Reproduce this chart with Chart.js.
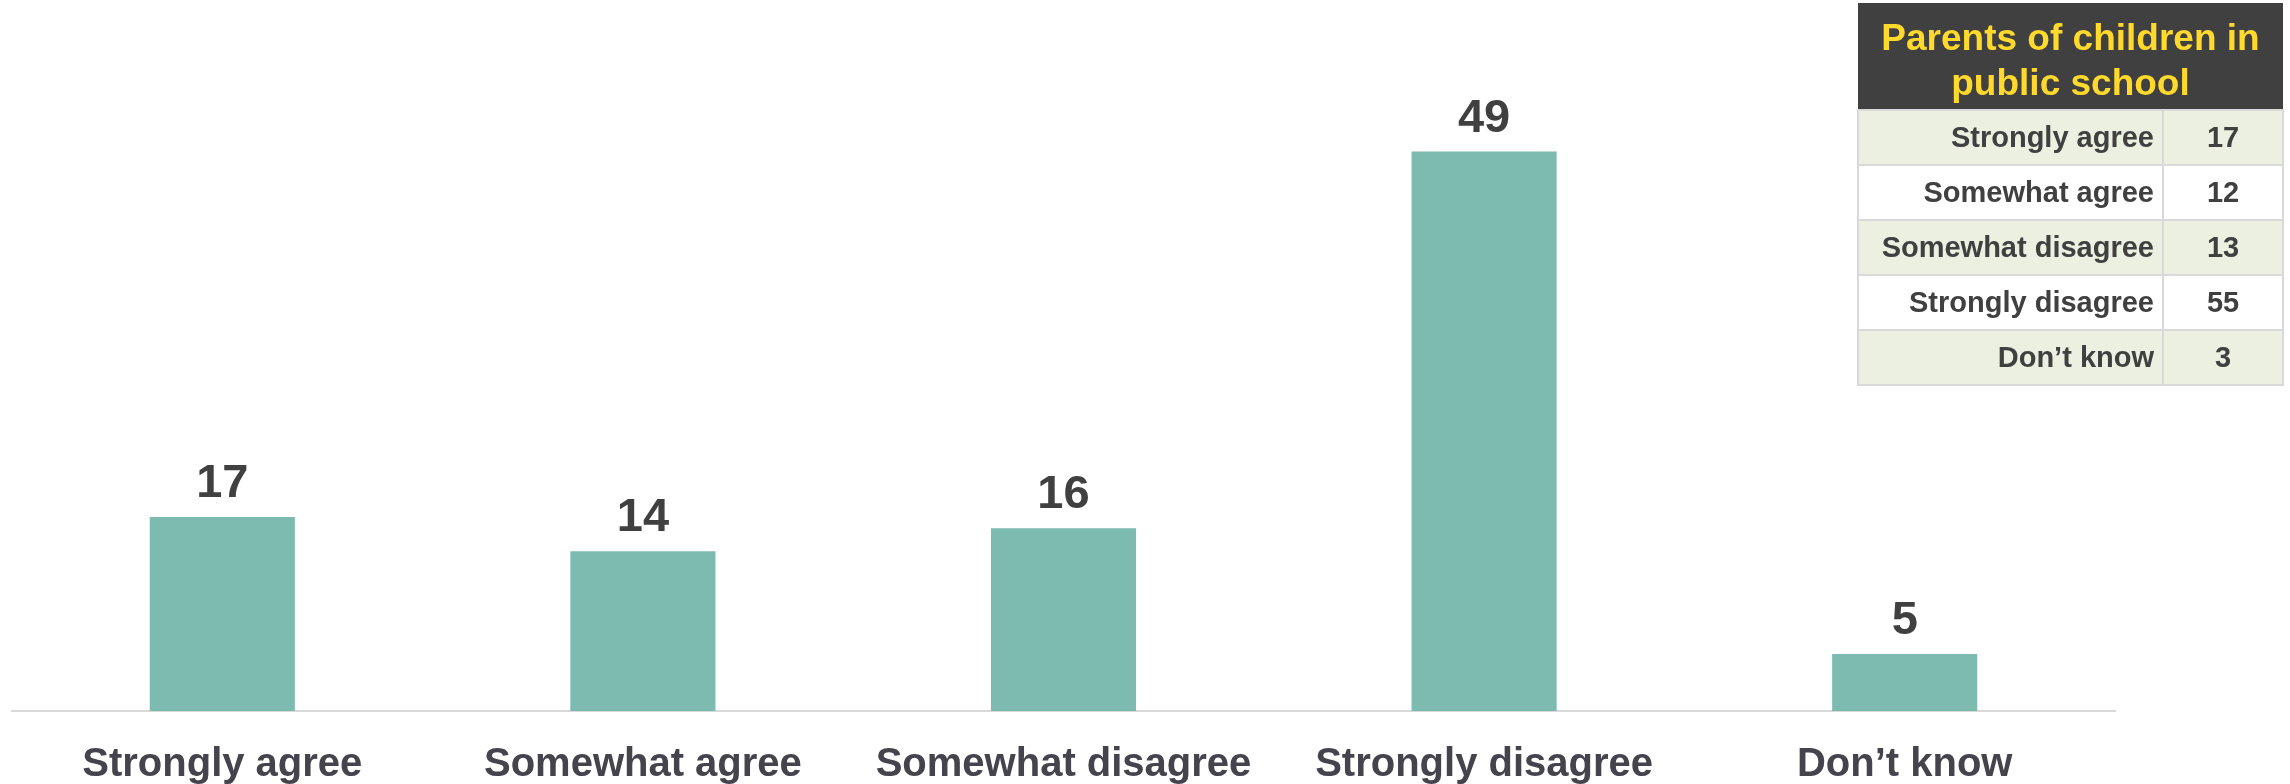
<!DOCTYPE html>
<html>
<head>
<meta charset="utf-8">
<script src="https://cdn.jsdelivr.net/npm/chart.js@4"></script>
<style>
  html, body { margin: 0; padding: 0; background: #ffffff; }
  #wrap { position: relative; width: 2290px; height: 784px; overflow: hidden; }
  #c { position: absolute; left: 0; top: 0; }
  #tbl {
    position: absolute; left: 1857px; top: 3px; width: 425px;
    border-collapse: collapse; font-family: "Liberation Sans", Arial, sans-serif;
    font-weight: bold; color: #404040; table-layout: fixed;
  }
  #tbl th {
    background: #404040; color: #ffd92c; font-size: 37px; line-height: 45px;
    height: 107px; padding: 8px 0 0 0; box-sizing: border-box; text-align: center; font-weight: bold;
  }
  #tbl td {
    height: 53px; padding: 0; font-size: 29px; border: 2px solid #d9d9d9;
  }
  #tbl td.lab { text-align: right; padding-right: 8px; }
  #tbl td.val { text-align: center; }
  #tbl tr.odd td { background: #ebf0e0; }
  #tbl tr.even td { background: #ffffff; }
</style>
</head>
<body>
<div id="wrap">
  <canvas id="c" width="2290" height="784"></canvas>
  <table id="tbl"></table>
</div>
<script>
// ---- data ----
const categories = ['Strongly agree', 'Somewhat agree', 'Somewhat disagree', 'Strongly disagree', 'Don\u2019t know'];
const values = [17, 14, 16, 49, 5];
const tableTitle = ['Parents of children in', 'public school'];
const tableLabels = ['Strongly agree', 'Somewhat agree', 'Somewhat disagree', 'Strongly disagree', 'Don\u2019t know'];
const tableValues = [17, 12, 13, 55, 3];

// ---- table ----
(function buildTable() {
  const t = document.getElementById('tbl');
  const colg = document.createElement('colgroup');
  const c1 = document.createElement('col'); c1.style.width = '305px';
  const c2 = document.createElement('col'); c2.style.width = '120px';
  colg.appendChild(c1); colg.appendChild(c2); t.appendChild(colg);
  const hr = document.createElement('tr');
  const th = document.createElement('th'); th.colSpan = 2;
  th.innerHTML = tableTitle.join('<br>');
  hr.appendChild(th); t.appendChild(hr);
  tableLabels.forEach((lab, i) => {
    const tr = document.createElement('tr');
    tr.className = i % 2 === 0 ? 'odd' : 'even';
    const a = document.createElement('td'); a.className = 'lab'; a.textContent = lab;
    const b = document.createElement('td'); b.className = 'val'; b.textContent = tableValues[i];
    tr.appendChild(a); tr.appendChild(b); t.appendChild(tr);
  });
})();

// ---- value labels plugin ----
const valueLabels = {
  id: 'valueLabels',
  afterDatasetsDraw(chart) {
    const ctx = chart.ctx;
    const meta = chart.getDatasetMeta(0);
    ctx.save();
    ctx.font = 'bold 47px "Liberation Sans", Arial, sans-serif';
    ctx.fillStyle = '#404040';
    ctx.textAlign = 'center';
    ctx.textBaseline = 'alphabetic';
    meta.data.forEach((bar, i) => {
      ctx.fillText(String(chart.data.datasets[0].data[i]), bar.x, bar.y - 20);
    });
    ctx.restore();
  }
};

new Chart(document.getElementById('c'), {
  type: 'bar',
  data: {
    labels: categories,
    datasets: [{
      data: values,
      backgroundColor: '#7dbbb0',
      borderWidth: 0,
      categoryPercentage: 1,
      barPercentage: 0.345
    }]
  },
  options: {
    responsive: false,
    devicePixelRatio: 1,
    animation: false,
    layout: { padding: { left: 12, right: 175, top: 26, bottom: 0 } },
    plugins: { legend: { display: false }, tooltip: { enabled: false } },
    scales: {
      x: {
        grid: { display: false, drawTicks: false },
        border: { display: true, color: '#d9d9d9', width: 2 },
        ticks: {
          color: '#45434c',
          padding: 30,
          maxRotation: 0,
          autoSkip: false,
          font: { family: '"Liberation Sans", Arial, sans-serif', size: 40, weight: 'bold' }
        },
        afterFit(s) { s.height = 73; }
      },
      y: {
        display: false,
        min: 0,
        max: 60
      }
    }
  },
  plugins: [valueLabels]
});
</script>
</body>
</html>
